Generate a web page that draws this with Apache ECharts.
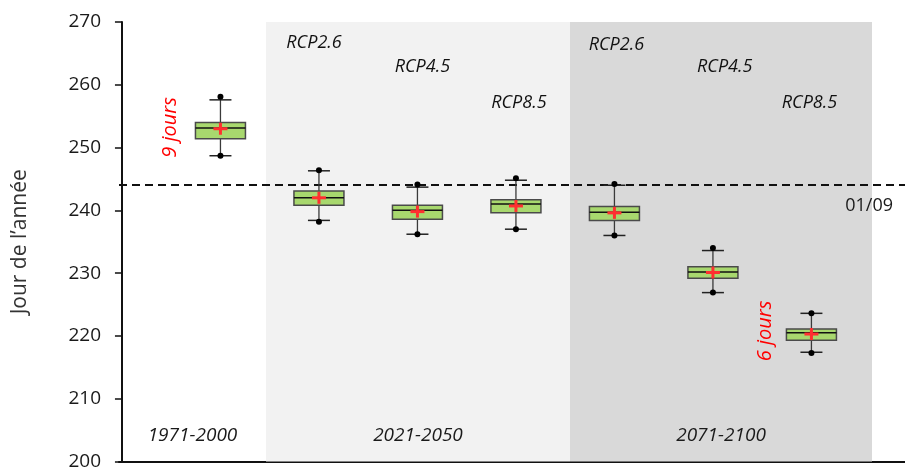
<!DOCTYPE html>
<html>
<head>
<meta charset="utf-8">
<script src="https://cdn.jsdelivr.net/npm/echarts@6/dist/echarts.min.js"></script>
<style>
  html, body { margin: 0; padding: 0; background: #ffffff; }
  #chart { width: 905px; height: 471px; }
</style>
</head>
<body>
<div id="chart"></div>
<script>
// Date of the event (day of year): one box per period / scenario
const boxNames    = ['1971-2000', '2021-2050 RCP2.6', '2021-2050 RCP4.5', '2021-2050 RCP8.5',
                     '2071-2100 RCP2.6', '2071-2100 RCP4.5', '2071-2100 RCP8.5'];
const whiskerLow  = [248.7, 238.4, 236.2, 237.0, 236.0, 226.9, 217.4];
const q1          = [251.4, 240.8, 238.6, 239.6, 238.4, 229.2, 219.3];
const median      = [253.1, 242.0, 240.0, 241.0, 239.7, 230.2, 220.5];
const q3          = [254.0, 243.1, 240.8, 241.7, 240.6, 231.0, 221.1];
const whiskerHigh = [257.6, 246.3, 243.7, 244.8, 244.0, 233.6, 223.6];
const meanValue   = [253.0, 242.0, 239.8, 240.7, 239.6, 230.1, 220.3];
const minPoint    = [248.7, 238.2, 236.2, 237.0, 236.0, 226.9, 217.3];
const maxPoint    = [258.1, 246.4, 244.1, 245.1, 244.2, 234.0, 223.6];

// Reference date: 1 September = day 244
const refDay = 244.1;
const refLabel = '01/09';

// Periods (background bands) and their extent on the x scale
const periods     = ['1971-2000', '2021-2050', '2071-2100'];
const periodStart = [-0.03, 1.462, 4.549];
const periodEnd   = [1.462, 4.549, 7.615];
const periodColor = ['rgba(255,255,255,0)', '#f2f2f2', '#d9d9d9'];

// Scenario labels written above the boxes
const scenarioText = ['RCP2.6', 'RCP4.5', 'RCP8.5', 'RCP2.6', 'RCP4.5', 'RCP8.5'];
const scenarioX    = [1.95, 3.05, 4.03, 5.02, 6.12, 6.98];
const scenarioY    = [266.7, 262.9, 257.1, 266.4, 262.9, 257.1];

// Notes in red
const noteText = ['9 jours', '6 jours'];
const noteX    = [0.49, 6.53];
const noteY    = [253.2, 220.8];

const FONT = '"Open Sans", "Liberation Sans", sans-serif';

const boxData = boxNames.map((n, i) => [
  i + 1, whiskerLow[i], q1[i], median[i], q3[i], whiskerHigh[i], meanValue[i], minPoint[i], maxPoint[i]
]);

function renderBox(params, api) {
  const x = api.value(0);
  const p = k => api.coord([x, api.value(k)]);
  const cx = p(1)[0];
  const yLow = p(1)[1], yQ1 = p(2)[1], yMed = p(3)[1], yQ3 = p(4)[1], yHigh = p(5)[1];
  const yMean = p(6)[1], yMin = p(7)[1], yMax = p(8)[1];
  const halfBox = 25, halfCap = 11, halfCross = 7;
  return {
    type: 'group',
    children: [
      { type: 'line', shape: { x1: cx, y1: yHigh, x2: cx, y2: yLow },
        style: { stroke: '#3a3a3a', lineWidth: 1.3 } },
      { type: 'line', shape: { x1: cx - halfCap, y1: yHigh, x2: cx + halfCap, y2: yHigh },
        style: { stroke: '#222', lineWidth: 1.5 } },
      { type: 'line', shape: { x1: cx - halfCap, y1: yLow, x2: cx + halfCap, y2: yLow },
        style: { stroke: '#222', lineWidth: 1.5 } },
      { type: 'rect', shape: { x: cx - halfBox, y: yQ3, width: halfBox * 2, height: yQ1 - yQ3 },
        style: { fill: '#a8d86e', stroke: '#4a4a4a', lineWidth: 1.5 } },
      { type: 'line', shape: { x1: cx - halfBox, y1: yMed, x2: cx + halfBox, y2: yMed },
        style: { stroke: '#111', lineWidth: 1.5 } },
      { type: 'circle', shape: { cx: cx, cy: yMax, r: 3 }, style: { fill: '#000' } },
      { type: 'circle', shape: { cx: cx, cy: yMin, r: 3 }, style: { fill: '#000' } },
      { type: 'line', shape: { x1: cx - halfCross, y1: yMean, x2: cx + halfCross, y2: yMean },
        style: { stroke: '#ff3030', lineWidth: 3 } },
      { type: 'line', shape: { x1: cx, y1: yMean - 6, x2: cx, y2: yMean + 6 },
        style: { stroke: '#ff3030', lineWidth: 3 } }
    ]
  };
}

const chart = echarts.init(document.getElementById('chart'), null, { renderer: 'canvas' });

chart.setOption({
  animation: false,
  backgroundColor: '#ffffff',
  grid: { left: 119, right: 0, top: 22, bottom: 8 },
  xAxis: {
    type: 'value', min: -0.03, max: 7.95,
    axisLine: { show: true, onZero: false, lineStyle: { color: '#111', width: 2 } },
    axisTick: { show: false }, axisLabel: { show: false }, splitLine: { show: false }
  },
  yAxis: {
    type: 'value', min: 200, max: 270, interval: 10,
    name: 'Jour de l\u2019ann\u00e9e', nameLocation: 'middle', nameGap: 88, nameRotate: 90,
    nameTextStyle: { fontFamily: FONT, fontSize: 21, color: '#333' },
    axisLine: { show: true, lineStyle: { color: '#111', width: 2 } },
    axisTick: { show: true, length: 7, lineStyle: { color: '#111', width: 1.5 } },
    axisLabel: { fontFamily: FONT, fontSize: 19, color: '#1a1a1a', margin: 18 },
    splitLine: { show: false }
  },
  series: [
    {
      // period bands and the reference date line
      type: 'line', data: [], silent: true, z: 1,
      markArea: {
        silent: true,
        data: periods.map((p, i) => [
          { xAxis: periodStart[i], yAxis: 200, itemStyle: { color: periodColor[i] },
            label: { show: true, position: 'insideBottom', distance: 16, formatter: p,
                     fontFamily: FONT, fontSize: 19, fontStyle: 'italic', color: '#1a1a1a' } },
          { xAxis: periodEnd[i], yAxis: 270 }
        ])
      },
      markLine: {
        silent: true, symbol: 'none',
        lineStyle: { color: '#111', type: [8, 5], width: 2 },
        label: { show: true, position: 'insideEndBottom', formatter: refLabel, distance: [12, 12],
                 fontFamily: FONT, fontSize: 18, color: '#1a1a1a' },
        data: [{ yAxis: refDay }]
      }
    },
    {
      type: 'custom', z: 5,
      renderItem: renderBox,
      encode: { x: 0, y: [1, 2, 3, 4, 5, 6, 7, 8] },
      data: boxData
    },
    {
      type: 'scatter', symbolSize: 0, z: 6, silent: true,
      itemStyle: { opacity: 1 },
      data: scenarioText.map((t, i) => ({ value: [scenarioX[i], scenarioY[i]], name: t })),
      label: { show: true, position: 'inside', formatter: '{b}',
               fontFamily: FONT, fontSize: 18, fontStyle: 'italic', color: '#111' }
    },
    {
      type: 'scatter', symbolSize: 0, z: 6, silent: true,
      itemStyle: { opacity: 1 },
      data: noteText.map((t, i) => ({ value: [noteX[i], noteY[i]], name: t })),
      label: { show: true, position: 'inside', formatter: '{b}', rotate: 90,
               fontFamily: FONT, fontSize: 20, fontStyle: 'italic', color: '#ff0000' }
    }
  ]
});
</script>
</body>
</html>
